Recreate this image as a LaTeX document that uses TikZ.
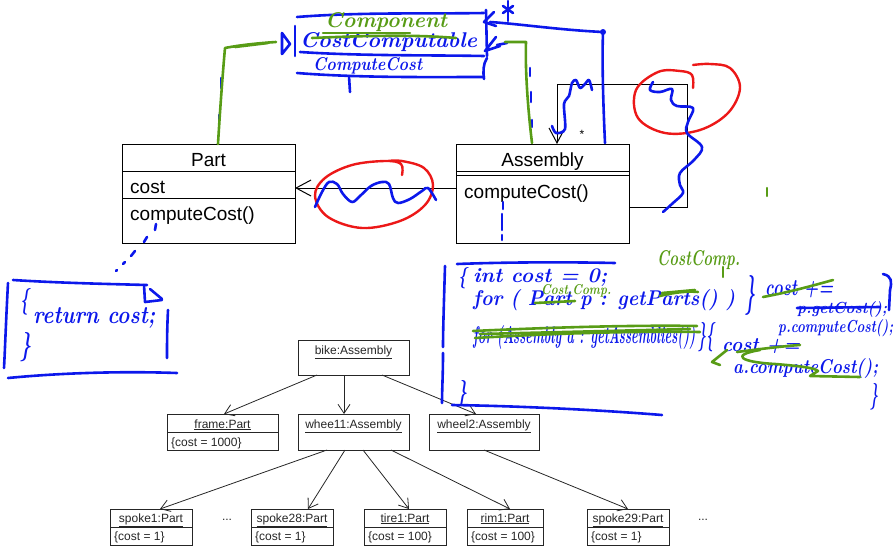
\documentclass[tikz,border=0pt]{standalone}
\usepackage{fontspec}
\newfontfamily\umlfont{Liberation Sans}
\usetikzlibrary{arrows.meta,calc}
\definecolor{hblue}{RGB}{12,24,235}
\definecolor{hgreen}{RGB}{88,156,22}
\definecolor{hred}{RGB}{236,24,24}
\newcommand{\hw}[3]{\resizebox{#1pt}{#2pt}{\bfseries\itshape #3}}
\begin{document}
\begin{tikzpicture}[x=1pt,y=-1pt,
  cls/.style={draw=black, line width=1pt, inner sep=0pt, outer sep=0pt},
  obj/.style={draw=black!85, line width=0.9pt, inner sep=0pt, outer sep=0pt},
  uml/.style={font=\umlfont\fontsize{19}{19}\selectfont, inner sep=0pt},
  otext/.style={font=\umlfont\fontsize{12}{12}\selectfont, inner sep=0pt, text=black!85},
  oarrow/.style={draw=black!85, line width=0.8pt, -{Straight Barb[length=9pt,width=12pt]}},
  bigarrow/.style={line width=1pt, -{Straight Barb[length=15pt,width=16pt]}},
  pen/.style={hblue, line width=2.6pt, line cap=round, line join=round},
  gpen/.style={hgreen, line width=2.6pt, line cap=round, line join=round},
  rpen/.style={hred, line width=2.4pt, line cap=round, line join=round},
  hb/.style={text=hblue, inner sep=0pt, anchor=base west},
  hg/.style={text=hgreen, inner sep=0pt, anchor=base west}]
\useasboundingbox (0,0) rectangle (896,546);

% ---------------- class diagram ----------------
\node[cls, minimum width=173pt, minimum height=99pt, anchor=north west] (part) at (122,144) {};
\draw[line width=1pt] (122,171) -- (295,171);
\draw[line width=1pt] (122,198) -- (295,198);
\node[uml, anchor=base] at (208.5,166) {Part};
\node[uml, anchor=base west] at (130,193) {cost};
\node[uml, anchor=base west] at (130,220) {computeCost()};

\node[cls, minimum width=173pt, minimum height=99pt, anchor=north west] (asm) at (456,144) {};
\draw[line width=1pt] (456,171) -- (629,171);
\draw[line width=1pt] (456,175) -- (629,175);
\node[uml, anchor=base] at (542.5,166) {Assembly};
\node[uml, anchor=base west] at (464,198) {computeCost()};

\coordinate (ay) at (0,188);
\draw[bigarrow] (asm.west |- ay) -- (part.east |- ay);
\coordinate (sy) at (0,207);
\coordinate (sx) at (557,0);
\draw[bigarrow] (asm.east |- sy) -- (687,207) -- (687,84) -- (557,84) -- (asm.north -| sx);
\node[font=\umlfont\fontsize{12}{12}\selectfont, inner sep=0pt] at (582,134) {*};

% ---------------- object diagram ----------------
\node[obj, minimum width=111pt, minimum height=35pt, anchor=north west] (bike) at (298,340) {};
\node[otext, anchor=base] at (353.5,354) {\underline{bike:Assembly}};
\node[obj, minimum width=111pt, minimum height=36pt, anchor=north west] (frame) at (167,414) {};
\draw[draw=black!85, line width=0.9pt] (167,432) -- (278,432);
\node[otext, anchor=base] at (222.5,428) {\underline{frame:Part}};
\node[otext, anchor=base west] at (171,446) {\{cost = 1000\}};
\node[obj, minimum width=111pt, minimum height=36pt, anchor=north west] (wh1) at (298,414) {};
\node[otext, anchor=base] at (353.5,428) {\underline{whee11:Assembly}};
\node[obj, minimum width=110pt, minimum height=36pt, anchor=north west] (wh2) at (429,414) {};
\node[otext, anchor=base] at (484,428) {\underline{wheel2:Assembly}};

\foreach \nm/\xl/\w/\lab/\c in {sp1/110/82/spoke1:Part/1, sp28/251/82/spoke28:Part/1, tire/364/82/tire1:Part/100, rim/467/76/rim1:Part/100, sp29/587/82/spoke29:Part/1}{
  \node[obj, minimum width=\w pt, minimum height=36pt, anchor=north west] (\nm) at (\xl,509) {};
  \draw[draw=black!85, line width=0.9pt] (\xl,527) -- ++(\w,0);
  \node[otext, anchor=base] at ($(\xl,522)+(\w/2,0)$) {\underline{\lab}};
  \node[otext, anchor=base west] at ($(\xl,540)+(4,0)$) {\{cost = \c\}};
}
\node[otext] at (227,520) {...};
\node[otext] at (703,520) {...};

\draw[oarrow] ($(bike.south west)+(19,0)$) -- ($(frame.north west)+(57,0)$);
\draw[oarrow] ($(bike.south west)+(46,0)$) -- ($(wh1.north west)+(46,0)$);
\draw[oarrow] ($(bike.south west)+(84,0)$) -- ($(wh2.north west)+(47,0)$);
\draw[oarrow] ($(wh1.south west)+(29,0)$) -- ($(sp1.north west)+(50,0)$);
\draw[oarrow] ($(wh1.south west)+(47,0)$) -- ($(sp28.north west)+(57,0)$);
\draw[oarrow] ($(wh1.south west)+(65,0)$) -- ($(tire.north west)+(45,0)$);
\draw[oarrow] ($(wh1.south west)+(93,0)$) -- ($(rim.north west)+(43,0)$);
\draw[oarrow] ($(wh2.south west)+(55,0)$) -- ($(sp29.north west)+(41,0)$);

% ---------------- handwriting: interface box ----------------
\draw[pen] (297,17) .. controls (360,12) and (430,14) .. (484,13);
\draw[pen] (486,10) -- (487,56);
\draw[pen] (487,58) .. controls (483,64) and (483,72) .. (484,79);
\draw[pen] (300,52) .. controls (360,56) and (430,55) .. (484,56);
\draw[pen] (297,73) .. controls (360,78) and (430,77) .. (484,77);
\draw[pen] (295,26) -- (295,56);
\draw[pen] (282,33) -- (282,54) -- (290,44) -- cycle;
\node[hb] at (300,47) {\hw{177}{15}{CostComputable}};
\node[hg] at (325,27) {\hw{122}{15}{Component}};
\draw[gpen] (312,38) .. controls (380,35) and (420,35) .. (456,38);
\draw[gpen] (323,33) -- (410,33);
\node[hb] at (313,70) {\hw{109}{13}{ComputeCost}};
\draw[pen] (349,76) -- (350,92);

% arrows to the interface
\draw[pen] (605,143) .. controls (603,100) and (602,60) .. (603,32) .. controls (560,30) and (520,24) .. (490,22);
\fill[hblue] (603,32) circle (3);
\draw[pen] (494,12) -- (484,22) -- (496,26);
\draw[pen] (508,1) -- (508,21);
\draw[pen] (503,6) -- (513,13);
\draw[pen] (513,6) -- (503,13);
\draw[pen] (496,37) -- (485,51) -- (500,46);
\draw[pen] (497,45) -- (507,43);
\draw[pen] (530,68) -- (530,76);
\draw[pen] (531,92) -- (531,102);
\draw[pen] (532,120) -- (532,127);
\draw[gpen] (532,143) .. controls (528,110) and (525,70) .. (526,42) -- (505,42);
\draw[pen] (221,78) -- (221,88);
\draw[pen] (219,115) -- (219,124);
\draw[gpen] (218,144) .. controls (220,110) and (223,70) .. (225,48) .. controls (240,45) and (260,43) .. (276,42);
\draw[gpen] (235,47) -- (268,43);

% squiggle over self association
\draw[pen] plot[smooth, tension=0.5] coordinates {(552,126) (556,133) (565,129) (564,104) (569,96) (572,83) (576,80) (580,88) (585,84) (589,80) (592,90)};

% red loop and blue squiggle right
\draw[rpen] plot[smooth, tension=0.6] coordinates {(693,88) (692,75) (680,71) (658,72) (636,90) (638,118) (665,133) (700,130) (728,113) (740,88) (730,68) (710,64) (693,65)};
\draw[pen] plot[smooth, tension=0.6] coordinates {(653,82) (650,90) (660,92) (672,89) (671,100) (677,106) (693,108) (688,122) (687,133) (702,147) (694,160) (680,173) (680,185) (683,193) (673,203) (663,212)};
\draw[hgreen, line width=2.4pt, line cap=round] (767,188) -- (767,196);

% red ellipse on association
\draw[rpen] plot[smooth, tension=0.6] coordinates {(402,175) (401,164) (385,161) (352,165) (325,178) (315,196) (328,217) (362,228) (400,221) (425,205) (433,185) (424,168) (402,161) (388,161)};
\draw[pen] plot[smooth, tension=0.6] coordinates {(315,207) (322,192) (329,182) (337,184) (343,194) (352,202) (360,196) (371,186) (382,182) (389,184) (393,198) (398,203) (410,199) (422,191) (428,188) (436,200)};

% dashed lines below Part and Assembly
\draw[pen] (156,224) -- (155,230);
\draw[pen] (147,237) -- (144,242);
\draw[pen] (135,251) -- (131,256);
\draw[pen] (125,262) -- (123,264);
\draw[pen] (117,270) -- (116,271);
\draw[pen] (503,202) -- (503,209);
\draw[pen] (502,214) -- (502,230);
\draw[pen] (502,235) -- (502,240);

% ---------------- note box left ----------------
\draw[pen] (13,280) .. controls (60,283) and (110,284) .. (147,285);
\draw[pen] (144,285) -- (145,302) -- (162,300);
\draw[pen] (150,289) -- (162,299);
\draw[pen] (8,283) .. controls (6,320) and (5,350) .. (4,368);
\draw[pen] (168,310) .. controls (167,330) and (167,345) .. (167,358);
\draw[pen] (8,378) .. controls (60,373) and (120,371) .. (177,373);
\node[hb] at (20,308) {\hw{9}{20}{\{}};
\node[hb] at (33,323) {\hw{122}{16}{return cost;}};
\node[hb] at (20,354) {\hw{11}{22}{\}}};

% ---------------- code box right ----------------
\draw[pen] (457,264) .. controls (510,262) and (570,262) .. (615,263);
\draw[pen] (445,266) .. controls (444,300) and (443,330) .. (443,347);
\draw[pen] (443,353) .. controls (443,375) and (442,390) .. (442,403);
\draw[pen] (452,405) .. controls (520,406) and (600,410) .. (662,415);
\node[hb] at (458,283) {\hw{9}{16}{\{}};
\node[hb] at (473,282) {\hw{134}{14}{int cost = 0;}};
\node[hb] at (473,305) {\hw{262}{16}{for ( Part p : getParts() )}};
\node[hb] at (745,305) {\hw{10}{30}{\}}};
\node[hg] at (541,294) {\hw{70}{10}{Cost.Comp.}};
\draw[gpen] (535,303) -- (575,301);
\draw[gpen] (660,296) .. controls (675,292) and (690,291) .. (698,292);
\draw[gpen] (662,293) -- (695,290);
\node[hg] at (657,265) {\hw{83}{15}{CostComp.}};
\draw[hgreen, line width=2.4pt, line cap=round] (723,267) -- (723,277);
\node[hb] at (473,343) {\hw{222}{18}{for (Assembly a : getAssemblies())}};
\node[hb] at (698,344) {\hw{16}{22}{\}\{}};
\draw[gpen] (473,331) .. controls (560,327) and (640,325) .. (697,326);
\draw[gpen] (475,338) .. controls (560,333) and (640,331) .. (700,332);
\draw[gpen] (480,334) -- (690,329);
\node[hb] at (457,400) {\hw{10}{20}{\}}};

\node[hb] at (765,295) {\hw{68}{15}{cost +=}};
\draw[gpen] (763,297) .. controls (790,292) and (815,285) .. (833,280);
\node[hb] at (797,313) {\hw{90}{12}{p.getCost();}};
\draw[pen] (797,308) -- (880,307);
\node[hb] at (778,332) {\hw{115}{13}{p.computeCost();}};
\draw[pen] (883,274) .. controls (892,276) and (892,282) .. (890,290) -- (889,310);
\node[hb] at (722,351) {\hw{78}{13}{cost +=}};
\node[hb] at (733,373) {\hw{145}{15}{a.computeCost();}};
\node[hb] at (870,403) {\hw{8}{20}{\}}};
\draw[gpen] (727,350) -- (712,362) -- (720,365);
\draw[gpen] (737,352) .. controls (760,349) and (785,346) .. (800,345);
\draw[gpen] (760,350) .. controls (730,355) and (740,362) .. (775,364) .. controls (800,366) and (815,368) .. (818,371) -- (810,376) -- (860,377);
\end{tikzpicture}
\end{document}
